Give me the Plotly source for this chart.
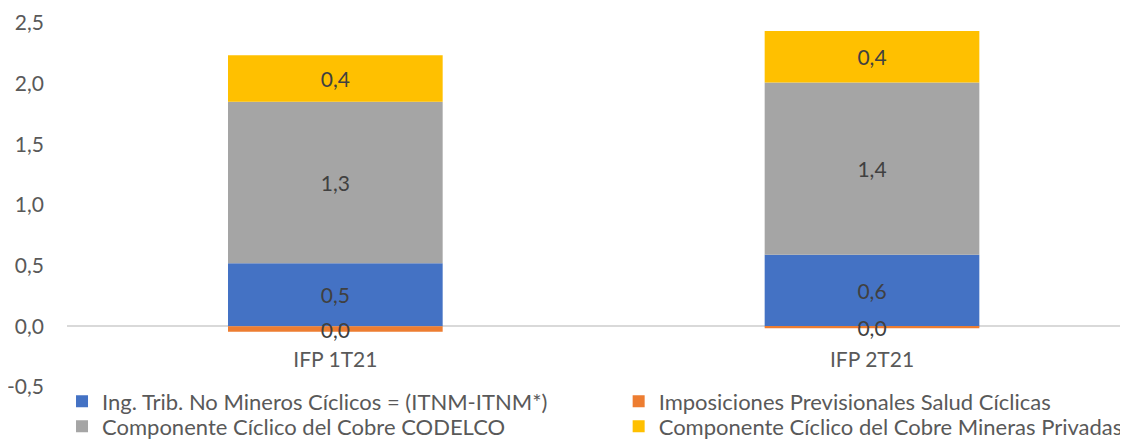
import plotly.graph_objects as go

categories = ["IFP 1T21", "IFP 2T21"]
itnm = [0.52, 0.59]
salud = [-0.045, -0.015]
codelco = [1.33, 1.42]
privadas = [0.385, 0.425]

names = [
    "Ing. Trib. No Mineros Cíclicos = (ITNM-ITNM*)",
    "Imposiciones Previsionales Salud Cíclicas",
    "Componente Cíclico del Cobre CODELCO",
    "Componente Cíclico del Cobre Mineras Privadas",
]
colors = ["#4472C4", "#ED7D31", "#A5A5A5", "#FFC000"]
legend_rows = ["legend", "legend", "legend2", "legend2"]
series = [itnm, salud, codelco, privadas]

y_ticks = [-0.5, 0.0, 0.5, 1.0, 1.5, 2.0, 2.5]

FONT = "Lato"
TXT = "#595959"


def lab(v):
    s = f"{v:.1f}"
    if s == "-0.0":
        s = "0.0"
    return s.replace(".", ",")


fig = go.Figure()
for name, col, vals, lg in zip(names, colors, series, legend_rows):
    fig.add_trace(go.Bar(
        x=categories, y=vals, name=name, legend=lg,
        marker=dict(color=col, line=dict(width=0)),
        text=[lab(v) for v in vals],
        textposition="inside", insidetextanchor="middle",
        textangle=0, constraintext="none",
        textfont=dict(family=FONT, size=21, color="#404040"),
        width=0.4,
    ))

ymin, ymax = y_ticks[0], y_ticks[-1]
W, H = 1120, 431          # page body adds an 8px offset in the 1128x439 window
L, T, B = 59, 15, 52
plot_h = H - T - B


def legend_cfg(center_px):
    return dict(
        orientation="h", entrywidth=0.497, entrywidthmode="fraction",
        x=-0.0047, xanchor="left",
        y=-(center_px - (H - B)) / plot_h, yanchor="middle",
        font=dict(family=FONT, size=22, color=TXT),
        traceorder="normal", itemwidth=30,
        bgcolor="rgba(0,0,0,0)", borderwidth=0,
    )


fig.update_layout(
    width=W, height=H,
    barmode="relative",
    separators=",.",
    plot_bgcolor="white", paper_bgcolor="white",
    margin=dict(l=L, r=0, t=T, b=B, autoexpand=False),
    font=dict(family=FONT, size=21, color=TXT),
    showlegend=True,
    legend=legend_cfg(393.5),
    legend2=legend_cfg(418.5),
    xaxis=dict(
        type="category", range=[-0.5, 1.477],
        anchor="free", position=(0 - ymin) / (ymax - ymin),
        showline=False, showgrid=False, ticks="", zeroline=False,
        ticklabelstandoff=19,
        tickfont=dict(family=FONT, size=21, color=TXT),
    ),
    yaxis=dict(
        range=[ymin, ymax],
        tickmode="array", tickvals=y_ticks,
        ticktext=[f"{v:.1f}".replace(".", ",") for v in y_ticks],
        showgrid=False, showline=False, ticks="",
        zeroline=True, zerolinecolor="#D9D9D9", zerolinewidth=1.5,
        ticklabelstandoff=22,
        tickfont=dict(family=FONT, size=21, color=TXT),
    ),
)

fig.write_html("out.html")
